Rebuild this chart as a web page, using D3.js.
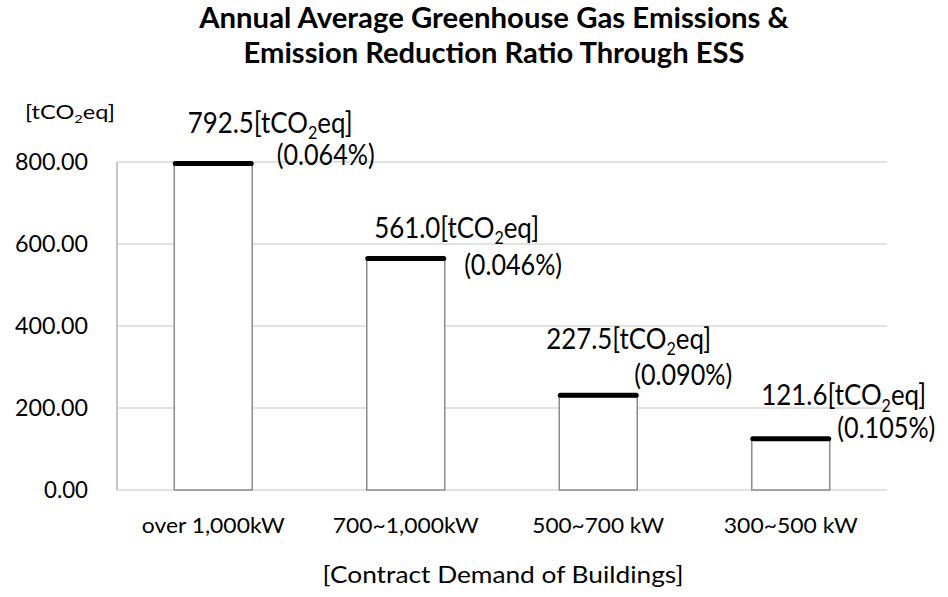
<!DOCTYPE html>
<html>
<head>
<meta charset="utf-8">
<script src="https://cdn.jsdelivr.net/npm/d3@7"></script>
<style>
  html, body { margin: 0; padding: 0; background: #fff; }
  svg { display: block; }
  text { font-family: Lato, "Open Sans", sans-serif; fill: #000; }
</style>
</head>
<body>
<svg id="chart" width="948" height="597"></svg>
<script>
// ---- data ----
const categories = ["over 1,000kW", "700~1,000kW", "500~700 kW", "300~500 kW"];
const emissions = [792.5, 561.0, 227.5, 121.6];
const ratios = ["0.064%", "0.046%", "0.090%", "0.105%"];
const yTicks = [0, 200, 400, 600, 800];
const titleLines = ["Annual Average Greenhouse Gas Emissions &", "Emission Reduction Ratio Through ESS"];
const yUnit = "[tCO2eq]";
const xTitle = "[Contract Demand of Buildings]";

// ---- layout (positions only) ----
const plot = { left: 117, right: 887, top: 162, bottom: 490 };
const valueLabelOffset = [[-25.5, -32], [-31.6, -22], [-52, -48], [-29.4, -35]];
const pctLabelOffset = [[63.5, 0], [58.4, 15], [36, -11.6], [46.6, -2]];

const svg = d3.select("#chart");

const x = d3.scaleBand().domain(categories)
  .range([plot.left, plot.right]).paddingInner(0.595).paddingOuter(0.2975);
const y = d3.scaleLinear().domain([0, 800]).range([plot.bottom, plot.top]);

function fit(sel, target) {
  sel.each(function() {
    const t = d3.select(this);
    const w = this.getComputedTextLength();
    const sx = target / w;
    const tx = +t.attr("data-x"), ty = +t.attr("data-y");
    t.attr("transform", `translate(${tx},${ty}) scale(${sx},1)`);
  });
}
function placeText(parent, str, px, py, size, anchor, weight) {
  return parent.append("text")
    .attr("data-x", px).attr("data-y", py)
    .attr("transform", `translate(${px},${py})`)
    .attr("font-size", size).attr("text-anchor", anchor || "start")
    .attr("font-weight", weight || "normal")
    .text(str);
}
function placeCO2(parent, str, px, py, size, anchor) {
  const idx = str.indexOf("CO2");
  const t = parent.append("text")
    .attr("data-x", px).attr("data-y", py)
    .attr("transform", `translate(${px},${py})`)
    .attr("font-size", size).attr("text-anchor", anchor || "start");
  t.append("tspan").text(str.slice(0, idx + 2));
  t.append("tspan").attr("font-size", size * 0.62).attr("dy", size * 0.22).text("2");
  t.append("tspan").attr("dy", -size * 0.22).text(str.slice(idx + 3));
  return t;
}

// ---- gridlines ----
svg.append("g").selectAll("line").data(yTicks).join("line")
  .attr("x1", plot.left).attr("x2", plot.right)
  .attr("y1", d => y(d)).attr("y2", d => y(d))
  .attr("stroke", "#d9d9d9").attr("stroke-width", 1.5);

svg.append("line")
  .attr("x1", plot.left).attr("x2", plot.left)
  .attr("y1", y(800)).attr("y2", y(0))
  .attr("stroke", "#c4c4c4").attr("stroke-width", 2);

// ---- y tick labels ----
const yAxisG = svg.append("g");
yTicks.forEach(v => {
  const t = placeText(yAxisG, d3.format(".2f")(v), 88, y(v) + 8, 23, "end");
  fit(t, v === 0 ? 44 : 73);
});

fit(placeCO2(svg, yUnit, 25, 119, 20, "start"), 90);

// ---- bars ----
const bars = svg.append("g");
bars.selectAll("rect").data(emissions).join("rect")
  .attr("x", (d, i) => x(categories[i]))
  .attr("y", d => y(d))
  .attr("width", x.bandwidth())
  .attr("height", d => y(0) - y(d))
  .attr("fill", "#fff").attr("stroke", "#8c8c8c").attr("stroke-width", 1.5);

bars.selectAll("line.top").data(emissions).join("line")
  .attr("class", "top")
  .attr("x1", (d, i) => x(categories[i]) + 1)
  .attr("x2", (d, i) => x(categories[i]) + x.bandwidth() - 1)
  .attr("y1", d => y(d) - 1.5).attr("y2", d => y(d) - 1.5)
  .attr("stroke", "#000").attr("stroke-width", 5).attr("stroke-linecap", "round");

// ---- value & ratio labels ----
const labG = svg.append("g");
emissions.forEach((v, i) => {
  const cx = x(categories[i]) + x.bandwidth() / 2;
  const vy = y(v);
  const s = d3.format(".1f")(v) + "[tCO2eq]";
  fit(placeCO2(labG, s, cx + valueLabelOffset[i][0], vy + valueLabelOffset[i][1], 29, "start"), 165);
  const p = placeText(labG, "(" + ratios[i] + ")", cx + pctLabelOffset[i][0], vy + pctLabelOffset[i][1], 28, "start");
  fit(p, 98);
});

// ---- x tick labels ----
const xTickW = [143, 146, 132, 134];
categories.forEach((c, i) => {
  const t = placeText(svg, c, x(c) + x.bandwidth() / 2, 533, 21, "middle");
  fit(t, xTickW[i]);
});

fit(placeText(svg, xTitle, 503, 583, 23, "middle"), 361);

// ---- title ----
fit(placeText(svg, titleLines[0], 494, 28, 28, "middle", "bold"), 590);
fit(placeText(svg, titleLines[1], 494, 63, 28, "middle", "bold"), 501);
</script>
</body>
</html>
